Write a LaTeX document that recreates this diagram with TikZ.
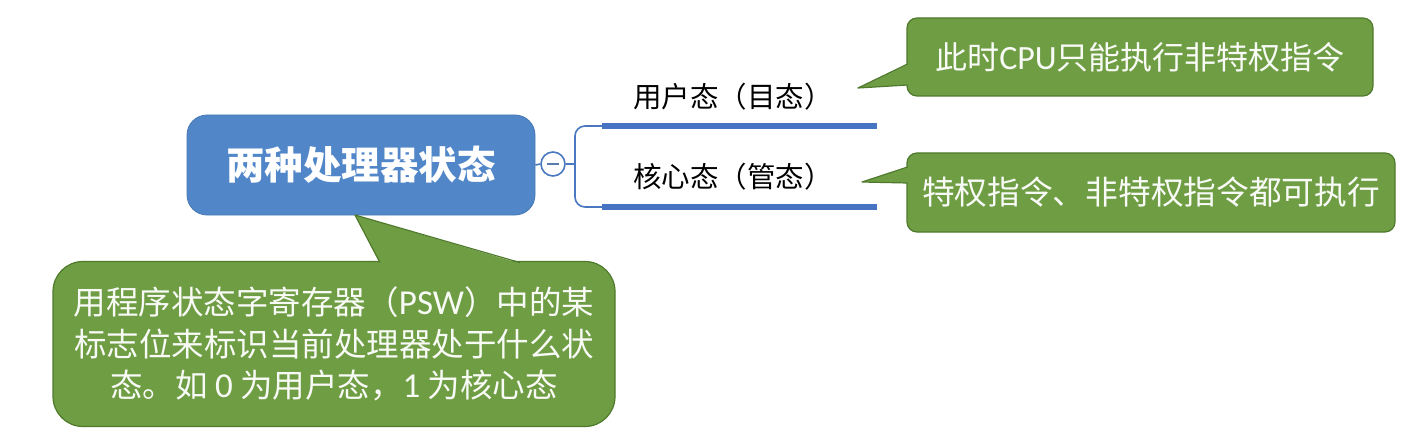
\documentclass[tikz,border=0pt]{standalone}
\usepackage{fontspec}
\setmainfont{Noto Sans CJK SC}
\newfontfamily\lat{Carlito}
\definecolor{rootblue}{HTML}{5186C8}
\definecolor{barblue}{HTML}{4674C2}
\definecolor{linkblue}{HTML}{4A78C0}
\definecolor{callgreen}{HTML}{6F9D44}
\definecolor{callborder}{HTML}{4F7A2C}
\tikzset{
  rootbox/.style={draw=rootblue!90!black, line width=0.8pt, fill=rootblue, rounded corners=20pt,
    minimum width=348pt, minimum height=100pt, inner sep=0pt, text=white,
    font=\fontsize{38.5}{42}\selectfont\bfseries},
  callbox/.style={draw=callborder, line width=1.2pt, fill=callgreen, rounded corners=10pt,
    inner sep=0pt, text=white!95!callgreen, align=center},
  lbl/.style={inner sep=0pt, text=black, font=\fontsize{28.5}{30}\selectfont},
  link/.style={draw=linkblue, line width=1.6pt},
  bar/.style={draw=barblue, line width=6pt},
}
\begin{document}
\begin{tikzpicture}[x=1pt,y=-1pt]
\useasboundingbox (0,0) rectangle (1422,441);
% root
\node[rootbox] (root) at (361,165) {两种处理器状态};
% collapse circle
\node[circle, draw=linkblue, line width=1.6pt, fill=white, minimum size=24pt, inner sep=0pt] (col) at (553,164) {};
\draw[draw=linkblue!70!gray, line width=2.2pt] ([xshift=-6pt]col.center) -- ([xshift=6pt]col.center);
\draw[link] (root.east) -- (col.west);
\coordinate (j) at (575,164);
\coordinate (t0) at (602,126);
\coordinate (b0) at (602,207);
\coordinate (t1) at (877,126);
\coordinate (b1) at (877,207);
\draw[link] (col.east) -- (j);
\draw[link, rounded corners=10pt] (t0) -- (575,126) -- (575,207) -- (b0);
\draw[bar] (t0) -- (t1);
\draw[bar] (b0) -- (b1);
% labels
\node[lbl] (user) at (733,97) {用户态（目态）};
\node[lbl] (kern) at (733,177) {核心态（管态）};
% callout 1
\node[callbox, minimum width=466pt, minimum height=78pt, font=\fontsize{32}{34}\selectfont] (c1) at (1140,57)
  {此时{\lat\fontsize{34}{34}\selectfont CPU}只能执行非特权指令};
\coordinate (p1) at (858,88);
\fill[callgreen] (909,64) -- (p1) -- (909,85) -- cycle;
\draw[callborder, line width=1.2pt, line join=round] (907.6,64) -- (p1) -- (907.6,85);
% callout 2
\node[callbox, minimum width=488pt, minimum height=79pt, font=\fontsize{32.7}{34}\selectfont] (c2) at (1151,192.5)
  {特权指令、非特权指令都可执行};
\coordinate (p2) at (862,182);
\fill[callgreen] (909,167) -- (p2) -- (909,183) -- cycle;
\draw[callborder, line width=1.2pt, line join=round] (907.6,167) -- (p2) -- (907.6,183);
% callout 3
\node[callbox, rounded corners=30pt, minimum width=562pt, minimum height=165pt, font=\fontsize{32.5}{41.5}\selectfont] (c3) at (334,344)
  {用程序状态字寄存器（{\lat\fontsize{35}{41.5}\selectfont PSW}）中的某\\
   标志位来标识当前处理器处于什么状\\
   态。如 {\lat\fontsize{35}{41.5}\selectfont 0} 为用户态，{\lat\fontsize{35}{41.5}\selectfont 1} 为核心态};
\coordinate (p3) at (355,215);
\fill[callgreen] (380,263.5) -- (p3) -- (520,263.5) -- cycle;
\draw[callborder, line width=1.2pt, line join=round] (380,262.6) -- (p3) -- (520,262.6);
\end{tikzpicture}
\end{document}
